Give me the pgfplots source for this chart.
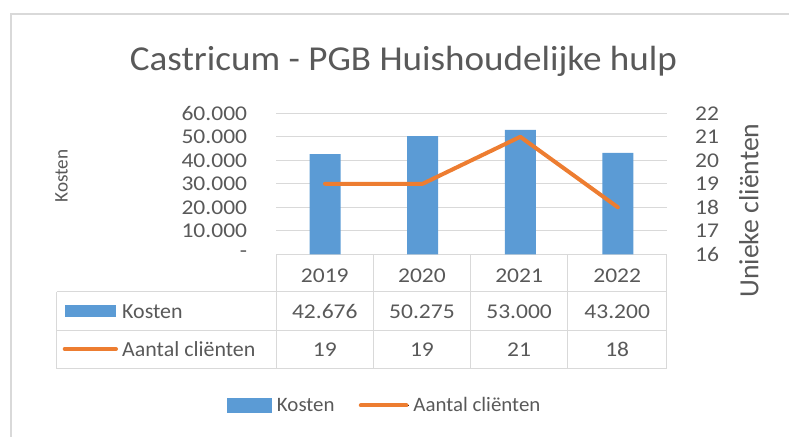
\documentclass[border=0pt]{standalone}
\usepackage{fontspec}
\usepackage{graphicx}
\setmainfont{Carlito}
\newfontfamily\titlefont[FakeStretch=1.06]{Carlito}
\newfontfamily\numfont[FakeStretch=1.12]{Carlito}
\newfontfamily\labfont[FakeStretch=1.02]{Carlito}
\usepackage{pgfplots}
\pgfplotsset{compat=1.18}
\definecolor{txt}{HTML}{595959}
\definecolor{gridc}{HTML}{D9D9D9}
\definecolor{barblue}{HTML}{5B9BD5}
\definecolor{lineor}{HTML}{ED7D31}
\begin{document}
\begin{tikzpicture}[x=1pt,y=1pt]
\useasboundingbox (0,0) rectangle (789,436);
% chart frame
\draw[gridc, line width=1.5pt] (11,-20) -- (11,422) -- (820,422);
% title
\node[anchor=base, inner sep=0pt, text=txt, font=\titlefont\fontsize{35}{40}\selectfont] at (403.5,365) {Castricum - PGB Huishoudelijke hulp};
% axis titles
\node[anchor=base, rotate=90, inner sep=0pt, text=txt] at (67.5,260) {\scalebox{0.8}{\fontsize{24pt}{28pt}\selectfont Kosten}};
\node[anchor=base, rotate=90, inner sep=0pt, text=txt, font=\fontsize{27.7pt}{32pt}\selectfont] at (758.3,225.5) {Unieke cliënten};

\begin{axis}[
  at={(276.2pt,181.7pt)}, anchor=south west, scale only axis,
  width=390.5pt, height=141pt,
  xmin=-0.5, xmax=3.5, ymin=0, ymax=60000,
  axis line style={draw=none},
  xtick=\empty,
  scaled y ticks=false,
  ytick={0,10000,20000,30000,40000,50000,60000},
  yticklabels={-\hspace{5pt},10.000,20.000,30.000,40.000,50.000,60.000},
  ymajorgrids, grid style={gridc, line width=1pt},
  major tick length=0pt,
  yticklabel style={anchor=east, inner sep=0pt, xshift=-28.9pt, text=txt, font=\numfont\fontsize{21}{25}\selectfont},
  clip=false,
  legend columns=2,
  legend style={draw=none, fill=none, inner sep=0pt, outer sep=0pt,
    at={(axis description cs:-0.1268,-1.0723)}, anchor=west,
    nodes={inner sep=0pt, text=txt, font=\labfont\fontsize{20.5}{24}\selectfont},
    /tikz/every odd column/.append style={column sep=4.7pt},
    /tikz/every even column/.append style={column sep=24pt}},
]
\addplot[ybar, bar width=31pt, fill=barblue, draw=none,
  legend image code/.code={\fill[barblue] (0pt,-7.5pt) rectangle (45.6pt,7.5pt);}]
  coordinates {(0,42676) (1,50275) (2,53000) (3,43200)};
\addlegendentry{Kosten}
\addlegendimage{legend image code/.code={\path (0pt,0pt) -- (49.7pt,0pt); \draw[lineor, line width=4pt, line cap=round] (2pt,0pt) -- (47.7pt,0pt);}}
\addlegendentry{Aantal cliënten}
\end{axis}

\begin{axis}[
  at={(276.2pt,181.7pt)}, anchor=south west, scale only axis,
  width=390.5pt, height=141pt,
  xmin=-0.5, xmax=3.5, ymin=16, ymax=22,
  axis line style={draw=none},
  xtick=\empty,
  ytick={16,17,18,19,20,21,22},
  yticklabels={16,17,18,19,20,21,22},
  yticklabel pos=right,
  major tick length=0pt,
  yticklabel style={anchor=west, inner sep=0pt, xshift=28.3pt, text=txt, font=\numfont\fontsize{21}{25}\selectfont},
  clip=false,
]
\addplot[lineor, line width=4pt, line join=round, line cap=round]
  coordinates {(0,19) (1,19) (2,21) (3,18)};
\end{axis}

% data table grid
\begin{scope}[gridc, line width=1pt]
\draw (56.7,144) -- (666.7,144);
\draw (56.7,105.5) -- (666.7,105.5);
\draw (56.7,67) -- (666.7,67);
\draw (56.7,144) -- (56.7,67);
\foreach \xx in {276.2,373.4,470.5,567.7,666.7} \draw (\xx,181.7) -- (\xx,67);
\end{scope}
% table keys
\fill[barblue] (65,119) rectangle (116,131);
\draw[lineor, line width=4pt, line cap=round] (64.7,87) -- (116,87);
\begin{scope}[every node/.style={inner sep=0pt, text=txt}]
\node[anchor=base west, font=\labfont\fontsize{21.5}{25}\selectfont] at (122,117) {Kosten};
\node[anchor=base west, font=\labfont\fontsize{21.5}{25}\selectfont] at (122,79.3) {Aantal cliënten};
\foreach \xx/\yr/\k/\a in {324.8/2019/42.676/19, 421.95/2020/50.275/19, 519.1/2021/53.000/21, 617.2/2022/43.200/18}{
  \node[anchor=base, font=\numfont\fontsize{21}{25}\selectfont] at (\xx,153.3) {\yr};
  \node[anchor=base, font=\numfont\fontsize{21}{25}\selectfont] at (\xx,117) {\k};
  \node[anchor=base, font=\numfont\fontsize{21}{25}\selectfont] at (\xx,79.3) {\a};
}
\end{scope}
\end{tikzpicture}
\end{document}
